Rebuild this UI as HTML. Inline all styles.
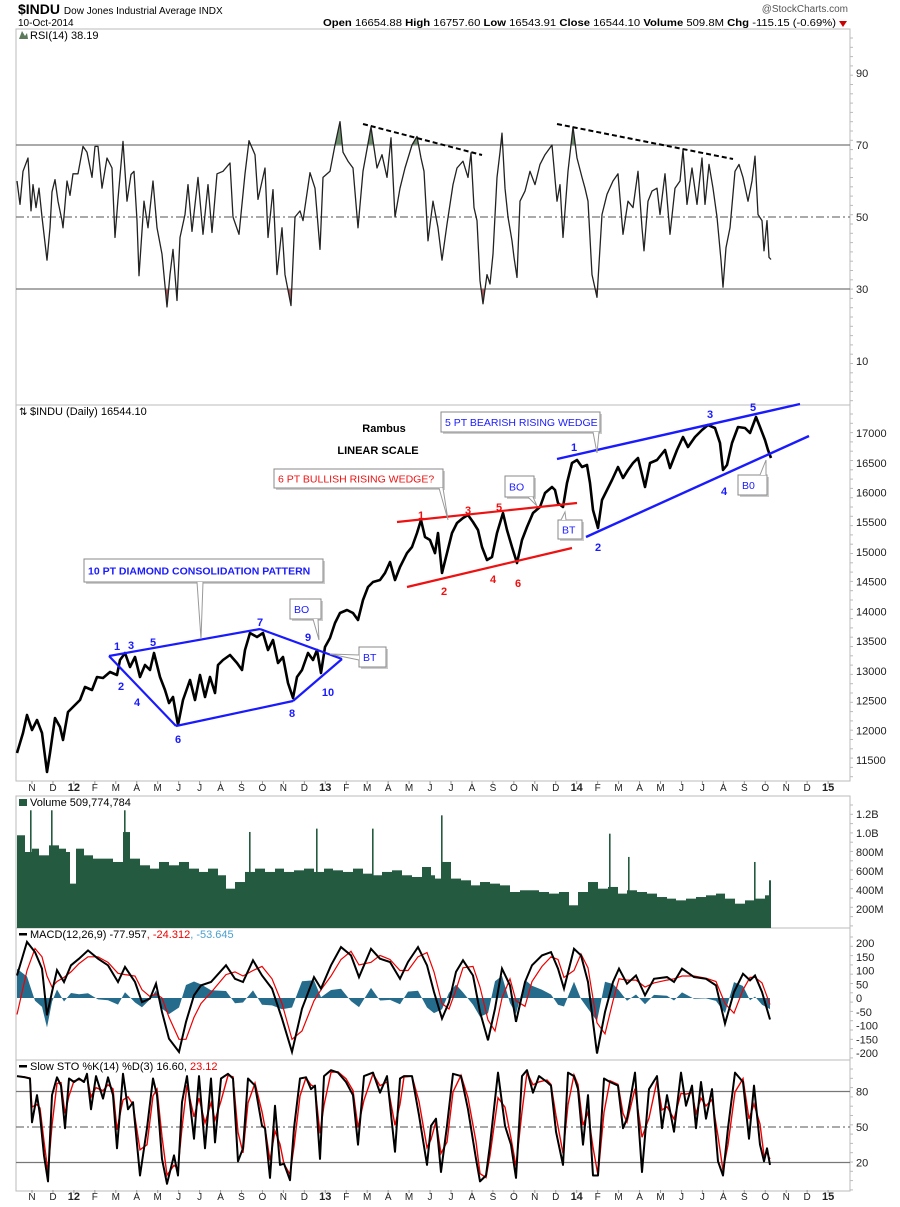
<!DOCTYPE html>
<html><head><meta charset="utf-8"><title>$INDU chart</title>
<style>
html,body{margin:0;padding:0;background:#fff;}
svg{display:block;font-family:"Liberation Sans",Arial,sans-serif;}
</style></head>
<body>
<svg id="chart" width="900" height="1207" viewBox="0 0 900 1207" xmlns="http://www.w3.org/2000/svg">
<rect x="0" y="0" width="900" height="1207" fill="#fff"/>
<g>
<text x="18" y="14" font-size="14" font-weight="bold">$INDU <tspan font-size="10" font-weight="normal">Dow Jones Industrial Average INDX</tspan></text>
<text x="18" y="26" font-size="10">10-Oct-2014</text>
<text x="848" y="12" font-size="10" fill="#555" text-anchor="end">@StockCharts.com</text>
<text x="323" y="26" font-size="10" textLength="513" lengthAdjust="spacingAndGlyphs"><tspan font-weight="bold">Open</tspan> 16654.88 <tspan font-weight="bold">High</tspan> 16757.60 <tspan font-weight="bold">Low</tspan> 16543.91 <tspan font-weight="bold">Close</tspan> 16544.10 <tspan font-weight="bold">Volume</tspan> 509.8M <tspan font-weight="bold">Chg</tspan> -115.15 (-0.69%)</text>
<path d="M839,21 L847,21 L843,27 Z" fill="#c00"/>
</g>
<g id="panels"></g>
<g id="marks"></g>
<g id="annot"></g>
</svg>
<script>
// ---------- DATA ----------
const rsiSessions=[0,3,6,11,14,16,19,22,25,30,33,35,38,41,45,46,50,53,56,61,66,70,75,78,81,85,90,95,98,101,106,110,114,117,120,122,127,131,136,140,145,150,153,156,160,163,168,171,175,181,186,191,195,200,206,213,216,222,228,232,238,241,248,251,256,260,265,268,274,278,283,286,293,298,303,306,313,318,323,326,331,336,341,346,354,360,365,370,374,378,383,388,395,400,404,407,411,416,421,425,430,433,
436,440,446,451,454,457,460,463,466,470,473,476,480,483,485,488,491,495,497,500,503,508,513,518,523,528,535,540,543,546,551,556,560,565,568,571,575,580,585,590,596,601,606,611,616,621,625,627,631,635,640,643,648,653,658,663,666,670,675,680,685,688,692,696,700,704,706,709,713,718,722,726,731,735,738,741,745,747,750,752,754];
const rsiValues=[60,53.5,62.7,66.4,51.7,59,52.6,58,50,38,47,57,60.4,54.4,49,47,60,56,62,62,69.6,68,61,69.6,69.6,58,66.4,63.6,44.3,55,71,54.4,61.8,62.7,49,33.7,54.4,47,60,47,39.7,25,34,41,26.8,44.3,50.7,59,46,61,45.2,59,45.7,62,62.7,65,50,45.2,62,71.2,67.3,54.9,63.6,44.3,57.6,34,47,34,25.4,50,51.7,49,62.3,58,41,61,62.7,70,76.5,68,65.5,63.6,47,62.7,75,63.6,67.3,61,72,50,58,63.6,70,72.4,66.4,62.7,43.4,54.4,47,38,48,53.5,
59,63.6,65.5,61,67.8,52.6,49,32.3,25.9,34,31.4,39.7,61,68,73.3,58,50,43.4,38.8,33.2,54.4,57.2,62.7,59,64.6,67.3,70,54.4,59,44.3,62.7,75,66.4,61,58,54.4,34,27.7,50.7,56.3,60,62,45.2,54.4,52.6,62.7,47,40.6,54.4,57.2,58,50.7,62,45.2,58,60,68.7,53.5,63.6,53.5,66.4,53.5,64.6,58,50,38,30.5,41.5,47,62.7,64.6,61,54.4,60,66.9,50.7,49,40.6,49,38.8,38.2];

const priceSessions=[0,6,10,15,20,25,30,33,38,43,46,51,58,63,68,75,80,86,93,100,103,108,113,118,123,128,133,137,143,148,152,156,161,166,173,178,183,188,193,198,201,206,213,220,225,228,233,240,246,251,256,261,266,271,276,280,285,291,296,300,304,308,313,318,323,330,336,341,346,351,356,363,368,373,378,
383,390,395,400,404,408,413,418,421,425,430,435,440,446,451,456,461,465,470,475,480,486,490,495,500,505,510,516,523,528,535,538,541,546,550,555,560,565,570,573,576,581,585,590,595,601,606,611,616,621,628,633,640,648,653,660,666,671,678,685,691,698,703,706,710,715,721,728,733,739,743,748,751,754];
const priceValues=[11618,11954,12257,12005,12173,11954,11298,11618,12206,12055,11836,12307,12425,12509,12728,12677,12896,12879,12980,12930,13182,13300,13064,13233,12896,13098,13014,13300,12896,12677,12459,12560,12089,12509,12846,12509,12930,12560,12896,12627,13098,13182,13266,13131,13014,13350,13636,13569,13636,13350,13518,13131,13233,12795,12543,12896,13014,13300,13182,13350,12963,13401,13552,13804,13972,14023,13972,13855,14191,14410,14494,14528,14645,14830,14528,
14746,14981,15083,15318,15537,15251,15200,14981,15318,14645,14981,15318,15486,15570,15621,15503,15369,15083,14864,14914,15318,15654,15369,15083,14813,15200,15419,15654,15755,15991,16092,16041,15822,15755,16159,16495,16546,16428,16462,16159,15705,15402,15873,16041,16210,16428,16243,16378,16495,16580,16092,16495,16546,16714,16411,16714,16933,16765,16933,17051,17135,17084,16832,16378,16462,16832,17101,17084,17000,17270,17101,16882,16714,16580];

const volSessions=[0,8,15,22,32,42,49,53,59,67,76,86,96,106,113,123,133,142,152,162,172,182,191,201,209,218,228,238,248,258,267,277,287,297,307,316,326,336,346,356,365,375,385,395,405,414,418,424,434,444,454,463,473,483,493,503,512,522,532,542,552,561,571,581,591,601,610,620,630,640,650,659,669,679,689,699,708,718,728,738,748,752];
const volMillions=[976,800,835,765,870,835,800,467,835,765,730,730,695,1010,730,660,625,695,660,695,625,590,625,555,414,484,590,625,590,625,590,607,625,590,625,607,590,625,572,555,590,607,555,537,642,555,520,695,520,502,449,484,467,449,379,397,397,379,362,379,239,379,484,414,432,362,397,379,362,326,309,291,309,326,344,362,309,256,291,309,344,502];
const volSpikeSessions=[13,34,107,232,299,355,424,592,611,737];
const volSpikeMillions=[1239,1239,1239,1011,1046,1046,1186,993,748,695];

const macdSessions=[0,10,18,25,30,35,40,47,54,62,71,81,91,101,108,118,125,133,139,145,152,162,169,177,184,194,209,218,226,236,245,255,265,275,285,297,304,314,324,334,342,354,363,373,383,391,401,410,417,425,432,439,446,456,463,471,478,485,493,499,508,515,525,534,541,547,557,564,571,580,588,596,602,610,619,628,637,650,657,665,677,689,699,708,717,726,733,738,745,753];
const macdValues=[82,204,167,107,-63,22,101,58,119,143,173,143,119,58,113,58,-15,-2,52,-51,-148,-196,-87,10,46,58,119,70,58,137,82,34,-75,-196,-39,76,34,119,185,155,76,179,143,131,70,131,185,119,22,-75,-15,95,137,82,-51,-154,-39,107,46,-87,58,119,155,167,107,34,179,155,58,-202,-51,58,107,52,82,10,70,76,58,107,76,70,46,-93,22,88,64,82,22,-78];
const signalValues=[-60,100,180,150,80,40,60,75,95,125,150,150,130,90,85,80,30,5,15,0,-70,-150,-150,-70,-20,20,85,95,80,100,115,70,-20,-150,-120,-10,30,80,140,170,120,130,155,140,100,100,150,165,95,-20,-40,30,110,115,40,-80,-120,0,70,-10,-30,60,115,150,140,75,100,160,110,-90,-130,-10,70,65,65,40,55,65,70,80,80,72,60,-20,-55,30,75,75,55,-24];

const stoSessions=[0,8,13,15,20,23,27,31,35,40,44,48,52,57,62,67,70,74,79,86,91,96,100,106,111,116,123,130,136,140,145,150,157,161,165,170,177,182,188,194,198,204,211,216,221,226,231,238,245,248,253,258,263,267,273,277,283,289,294,298,303,307,314,321,329,336,341,347,356,363,370,378,383,387,395,402,410,414,419,424,430,436,444,451,459,463,469,473,481,488,494,499,505,510,516,522,530,534,539,546,551,557,561,566,571,576,581,587,593,601,606,610,618,625,632,640,645,650,657,664,669,675,679,684,689,695,701,706,711,718,726,732,737,743,747,750,753];
const stoK=[93,92,91,54,77,60,26,4,77,92,85,49,91,88,91,88,95,65,93,74,92,77,32,95,65,71,9,49,91,77,23,2,26,9,71,93,40,93,32,91,37,91,95,91,21,32,91,85,51,49,7,68,18,19,5,49,91,92,82,85,23,93,98,96,88,77,35,93,96,79,93,29,91,93,93,60,18,51,57,12,51,95,93,65,23,4,9,35,96,51,35,7,93,98,79,93,88,85,46,18,96,93,82,35,77,9,9,91,88,85,49,57,96,12,82,93,49,77,46,96,68,85,49,88,57,82,21,9,49,96,88,40,85,35,21,32,18];

const monthLabels=["N","D","12","F","M","A","M","J","J","A","S","O","N","D","13","F","M","A","M","J","J","A","S","O","N","D","14","F","M","A","M","J","J","A","S","O","N","D","15"];
const priceTicks=[17000,16500,16000,15500,15000,14500,14000,13500,13000,12500,12000,11500];
const rsiTicks=[90,70,50,30,10];
const volTicks=[200,400,600,800,1000,1200];
const volTickLabels=["200M","400M","600M","800M","1.0B","1.2B"];
const macdTicks=[200,150,100,50,0,-50,-100,-150,-200];
const stoTicks=[80,50,20];

// ---------- SCALES ----------
const NS="http://www.w3.org/2000/svg";
const L=16,R=850;
const xS=s=>17+s;
const xMonth=m=>32+m*20.95;
const yRsi=v=>217-(v-50)*3.6;
const yPrice=p=>760-(p-11500)*0.05945;
const yVol=v=>928-v*0.095;
const yMacd=v=>998-v*0.275;
const ySto=v=>1127-(v-50)*1.183;

function el(tag,attrs,parent){const e=document.createElementNS(NS,tag);for(const k in attrs)e.setAttribute(k,attrs[k]);(parent||document.getElementById('marks')).appendChild(e);return e;}
function linePath(ss,vs,yf){return ss.map((s,i)=>(i?'L':'M')+xS(s).toFixed(1)+','+yf(vs[i]).toFixed(1)).join('');}
const P=document.getElementById('panels');

const panels=[["rsi-panel",29,405],["price-panel",405,781],["volume-panel",796,928],["macd-panel",928,1060],["sto-panel",1060,1191]];
panels.forEach(p=>{
 const r=el('rect',{x:L,y:p[1],width:R-L,height:p[2]-p[1],fill:'none',stroke:'#bbb','stroke-width':1},P);
 
 
 for(let y=p[1]+9;y<p[2];y+=9.3){el('line',{x1:R,x2:R+3,y1:y,y2:y,stroke:'#bbb'},P);}
});
function hline(y,dash,name){const l=el('line',{x1:L,x2:R,y1:y,y2:y,stroke:'#777','stroke-width':1.2,'stroke-dasharray':dash||'none'},P);
 
 }
hline(yRsi(70),null,'rsi-70-line');hline(yRsi(30),null,'rsi-30-line');hline(yRsi(50),'8,3,2,3','rsi-50-line');
hline(ySto(80),null,'sto-80-line');hline(ySto(20),null,'sto-20-line');hline(ySto(50),'8,3,2,3','sto-50-line');

function rlabel(y,txt,name){const t=el('text',{x:856,y:y+4,'font-size':11,fill:'#222'},P);t.textContent=txt;
 
 }
rsiTicks.forEach(v=>rlabel(yRsi(v),String(v),'rsi-tick-label'));
priceTicks.forEach(v=>rlabel(yPrice(v),String(v),'price-tick-label'));
volTicks.forEach((v,i)=>rlabel(yVol(v),volTickLabels[i],'volume-tick-label'));
macdTicks.forEach(v=>rlabel(yMacd(v),String(v),'macd-tick-label'));
stoTicks.forEach(v=>rlabel(ySto(v),String(v),'sto-tick-label'));

[791,1200].forEach(yy=>{
 monthLabels.forEach((m,i)=>{
  const bold=/\d/.test(m);
  const t=el('text',{x:xMonth(i),y:yy,'font-size':bold?11:10,'font-weight':bold?'bold':'normal','text-anchor':'middle',fill:'#222'},P);
  t.textContent=m;
  
  
  el('line',{x1:xMonth(i),x2:xMonth(i),y1:yy-10,y2:yy-7,stroke:'#999'},P);
 });
});

function title(x,y,html,name){const t=el('text',{x:x,y:y,'font-size':11,fill:'#000'},P);t.innerHTML=html;
 
 }
title(30,39,'RSI(14) 38.19','rsi-title');el('path',{d:'M19,39 L22,31 L25,36 L27,33 L28,39 Z',fill:'#5a7a5a'},P);
title(30,415,'$INDU (Daily) 16544.10','price-title');el('text',{x:19,y:415,'font-size':10},P).textContent='⇅';
title(30,806,'Volume 509,774,784','volume-title');el('rect',{x:19,y:799,width:8,height:7,fill:'#245a40'},P);
title(30,938,'MACD(12,26,9) -77.957<tspan fill="#e00">, -24.312</tspan><tspan fill="#4a9fcf">, -53.645</tspan>','macd-title');el('rect',{x:19,y:933,width:8,height:2.5,fill:'#000'},P);
title(30,1070,'Slow STO %K(14) %D(3) 16.60, <tspan fill="#e00">23.12</tspan>','sto-title');el('rect',{x:19,y:1065,width:8,height:2.5,fill:'#000'},P);

// ---------- RSI ----------
const rsiD=linePath(rsiSessions,rsiValues,yRsi);
const defs=el('defs',{},P);
const c1=el('clipPath',{id:'above70'},defs);el('rect',{x:L,y:29,width:R-L,height:yRsi(70)-29},c1);
const c2=el('clipPath',{id:'below30'},defs);el('rect',{x:L,y:yRsi(30),width:R-L,height:405-yRsi(30)},c2);
const x0=xS(rsiSessions[0]),x1=xS(rsiSessions[rsiSessions.length-1]);
const fillUp=el('path',{d:rsiD+`L${x1},${yRsi(70)}L${x0},${yRsi(70)}Z`,fill:'#6f8f6f','clip-path':'url(#above70)'});


const fillDn=el('path',{d:rsiD+`L${x1},${yRsi(30)}L${x0},${yRsi(30)}Z`,fill:'#b06060','clip-path':'url(#below30)'});


const rsiLine=el('path',{d:rsiD,fill:'none',stroke:'#222','stroke-width':1.3,'stroke-linejoin':'round'});



// ---------- PRICE ----------
const priceLine=el('path',{d:linePath(priceSessions,priceValues,yPrice),fill:'none',stroke:'#000','stroke-width':2.6,'stroke-linejoin':'round'});



// ---------- VOLUME ----------
volSessions.forEach((s,i)=>{
 const nx=i<volSessions.length-1?xS(volSessions[i+1]):xS(s)+2;
 const b=el('rect',{x:xS(s),y:yVol(volMillions[i]),width:Math.max(1,nx-xS(s)),height:928-yVol(volMillions[i]),fill:'#245a40'});
 
 
});
volSpikeSessions.forEach((s,i)=>{
 const b=el('rect',{x:xS(s),y:yVol(volSpikeMillions[i]),width:1.6,height:928-yVol(volSpikeMillions[i]),fill:'#245a40'});
 
 
});

// ---------- MACD ----------
const histVals=macdValues.map((v,i)=>v-signalValues[i]);
const hd='M'+xS(macdSessions[0])+','+yMacd(0)+macdSessions.map((s,i)=>'L'+xS(s)+','+yMacd(histVals[i]*0.75).toFixed(1)).join('')+'L'+xS(macdSessions[macdSessions.length-1])+','+yMacd(0)+'Z';
const hist=el('path',{d:hd,fill:'#256b8c'});


const sig=el('path',{d:linePath(macdSessions,signalValues,yMacd),fill:'none',stroke:'#e00','stroke-width':1.2});


const mac=el('path',{d:linePath(macdSessions,macdValues,yMacd),fill:'none',stroke:'#000','stroke-width':2});



// ---------- STO ----------
const stoD=stoK.map((v,i)=>i?0.65*v+0.35*stoK[i-1]:v);
const dl=el('path',{d:linePath(stoSessions,stoD,ySto),fill:'none',stroke:'#e00','stroke-width':1.4});


const kl=el('path',{d:linePath(stoSessions,stoK,ySto),fill:'none',stroke:'#000','stroke-width':2,'stroke-linejoin':'round'});



// ---------- ANNOTATIONS ----------
const A=document.getElementById('annot');
function ln(x1,y1,x2,y2,col,w,name,dash){const l=el('line',{x1,y1,x2,y2,stroke:col,'stroke-width':w,'stroke-dasharray':dash||'none'},A);
 
 }
function lbl(x,y,t,col,name,size){const e=el('text',{x,y,'font-size':size||11,'font-weight':'bold',fill:col,'text-anchor':'middle'},A);e.textContent=t;
 
 }
function callout(x,y,w,h,t,col,px,py,ax1,ax2,name,bold){
 el('rect',{x:x+2,y:y+2,width:w,height:h,fill:'#ccc'},A);
 const r=el('rect',{x,y,width:w,height:h,fill:'#fff',stroke:'#888'},A);
 
 
 el('path',{d:`M${ax1[0]},${ax1[1]} L${px},${py} L${ax2[0]},${ax2[1]}`,fill:'#fff',stroke:'#999'},A);
 const e=el('text',{x:x+4,y:y+h/2+4,'font-size':10.5,'font-weight':bold?'bold':'normal',fill:col},A);e.textContent=t;
 
 }
ln(363,124,482,155,'#000',2,'rsi-trendline-1','5,3');
ln(557,124,733,159,'#000',2,'rsi-trendline-2','5,3');
const t1=el('text',{x:384,y:432,'font-size':11,'font-weight':'bold','text-anchor':'middle'},A);t1.textContent='Rambus';


const t2=el('text',{x:378,y:454,'font-size':11,'font-weight':'bold','text-anchor':'middle'},A);t2.textContent='LINEAR SCALE';


const B='#1a1aff';
ln(109,656,260,629,B,2.2,'diamond-edge');ln(260,629,342,659,B,2.2,'diamond-edge');ln(342,659,293,701,B,2.2,'diamond-edge');
ln(293,701,176,726,B,2.2,'diamond-edge');ln(176,726,109,656,B,2.2,'diamond-edge');
[["1",117,650],["3",131,649],["5",153,646],["7",260,626],["9",308,641],["2",121,690],["4",137,706],["6",178,743],["8",292,717],["10",328,696]].forEach(a=>lbl(a[1],a[2],a[0],B,'diamond-point-label'));
callout(84,559,239,23,'10 PT DIAMOND CONSOLIDATION PATTERN',B,201,639,[197,582],[203,582],'diamond-callout',true);
callout(290,599,31,20,'BO',B,319,640,[313,619],[318,619],'diamond-bo-callout');
callout(359,647,27,20,'BT',B,330,654,[359,655],[359,660],'diamond-bt-callout');
const Rd='#ee1111';
ln(397,522,577,503,Rd,2.2,'red-wedge-upper');ln(407,587,572,548,Rd,2.2,'red-wedge-lower');
[["1",421,519],["3",468,514],["5",499,511],["2",444,595],["4",493,583],["6",518,587]].forEach(a=>lbl(a[1],a[2],a[0],Rd,'red-wedge-point-label'));
callout(274,469,169,19,'6 PT BULLISH RISING WEDGE?',Rd,448,520,[439,488],[443,488],'red-wedge-callout');
ln(557,459,800,404,B,2.4,'blue-wedge-upper');ln(586,537,809,436,B,2.4,'blue-wedge-lower');
[["1",574,451],["3",710,418],["5",753,411],["2",598,551],["4",724,495]].forEach(a=>lbl(a[1],a[2],a[0],B,'blue-wedge-point-label'));
callout(441,412,159,20,'5 PT BEARISH RISING WEDGE',B,597,453,[593,432],[599,432],'blue-wedge-callout');
callout(505,476,29,21,'BO',B,537,506,[528,497],[533,497],'red-wedge-bo-callout');
callout(558,520,24,19,'BT',B,565,512,[561,520],[566,520],'red-wedge-bt-callout');
callout(738,475,29,20,'B0',B,766,460,[760,475],[766,475],'blue-wedge-bo-callout');
</script>
</body></html>
